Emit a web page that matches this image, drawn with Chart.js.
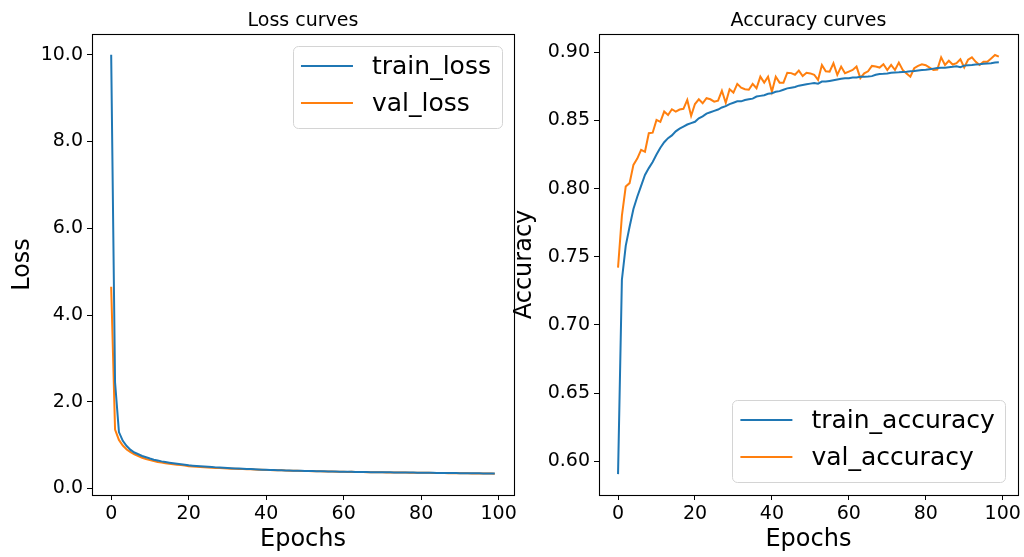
<!DOCTYPE html>
<html>
<head>
<meta charset="utf-8">
<script src="https://cdn.jsdelivr.net/npm/chart.js@4.4.1/dist/chart.umd.min.js"></script>
<style>
  html, body { margin: 0; padding: 0; background: #fff; }
  #wrap { position: relative; width: 1024px; height: 557px; overflow: hidden; }
  canvas { position: absolute; top: 0; }
  #lossChart { left: 0; }
  #accChart { left: 508px; }
</style>
</head>
<body>
<div id="wrap">
  <canvas id="lossChart" width="520" height="557"></canvas>
  <canvas id="accChart" width="516" height="557"></canvas>
</div>
<script>
// epochs 0..99
const epochs = Array.from({ length: 100 }, (_, i) => i);
const xTicks = [0, 20, 40, 60, 80, 100];
const lossTicks = [0, 2, 4, 6, 8, 10];
const accTicks = [0.60, 0.65, 0.70, 0.75, 0.80, 0.85, 0.90];

const trainLoss = [
  10.0, 2.45, 1.30, 1.10, 0.98, 0.89, 0.83, 0.79, 0.75, 0.72,
  0.69, 0.665, 0.645, 0.625, 0.61, 0.595, 0.582, 0.571, 0.56, 0.55,
  0.535, 0.527, 0.519, 0.512, 0.505, 0.499, 0.493, 0.487, 0.482, 0.477,
  0.472, 0.467, 0.463, 0.459, 0.455, 0.451, 0.447, 0.443, 0.439, 0.435,
  0.432, 0.429, 0.426, 0.423, 0.420, 0.417, 0.414, 0.412, 0.410, 0.408,
  0.406, 0.404, 0.402, 0.400, 0.398, 0.396, 0.394, 0.392, 0.390, 0.388,
  0.386, 0.385, 0.384, 0.382, 0.381, 0.380, 0.378, 0.377, 0.376, 0.375,
  0.374, 0.373, 0.372, 0.371, 0.370, 0.369, 0.368, 0.367, 0.366, 0.365,
  0.364, 0.363, 0.362, 0.361, 0.360, 0.359, 0.358, 0.357, 0.356, 0.355,
  0.354, 0.353, 0.352, 0.351, 0.350, 0.349, 0.348, 0.347, 0.346, 0.345
];
const valLoss = [
  4.65, 1.36, 1.12, 0.99, 0.90, 0.84, 0.79, 0.75, 0.71, 0.68,
  0.655, 0.632, 0.613, 0.598, 0.584, 0.571, 0.56, 0.549, 0.54, 0.531,
  0.515, 0.508, 0.502, 0.497, 0.49, 0.486, 0.481, 0.475, 0.472, 0.466,
  0.462, 0.458, 0.455, 0.45, 0.447, 0.445, 0.441, 0.437, 0.435, 0.432,
  0.428, 0.425, 0.423, 0.42, 0.418, 0.414, 0.412, 0.41, 0.407, 0.405,
  0.403, 0.401, 0.4, 0.397, 0.396, 0.393, 0.392, 0.39, 0.387, 0.386,
  0.384, 0.383, 0.385, 0.38, 0.379, 0.378, 0.376, 0.375, 0.374, 0.373,
  0.372, 0.371, 0.37, 0.369, 0.37, 0.367, 0.366, 0.365, 0.364, 0.363,
  0.362, 0.361, 0.362, 0.358, 0.357, 0.356, 0.355, 0.354, 0.353, 0.352,
  0.351, 0.35, 0.349, 0.348, 0.347, 0.346, 0.345, 0.344, 0.343, 0.342
];
const trainAcc = [
  0.5905, 0.733, 0.758, 0.772, 0.785, 0.794, 0.802, 0.810, 0.815, 0.8195,
  0.825, 0.830, 0.834, 0.837, 0.839, 0.842, 0.844, 0.8455, 0.847, 0.848,
  0.849, 0.8515, 0.853, 0.855, 0.856, 0.857, 0.858, 0.8595, 0.8605, 0.862,
  0.863, 0.864, 0.864, 0.865, 0.8655, 0.866, 0.8675, 0.868, 0.8685, 0.8695,
  0.870, 0.871, 0.8715, 0.8725, 0.8735, 0.874, 0.8745, 0.8755, 0.876, 0.8765,
  0.877, 0.8775, 0.877, 0.8785, 0.8785, 0.879, 0.8795, 0.880, 0.8805, 0.881,
  0.881, 0.8815, 0.8815, 0.882, 0.882, 0.8822, 0.8825, 0.8835, 0.884, 0.8842,
  0.8845, 0.885, 0.8852, 0.8853, 0.8855, 0.8857, 0.886, 0.8863, 0.8867, 0.887,
  0.8872, 0.8876, 0.888, 0.8884, 0.8886, 0.8887, 0.889, 0.8893, 0.8897, 0.889,
  0.8902, 0.8905, 0.8907, 0.891, 0.8912, 0.8915, 0.8918, 0.892, 0.8925, 0.8927
];
const valAcc = [
  0.742, 0.780, 0.8015, 0.804, 0.8174, 0.822, 0.8284, 0.827, 0.8406, 0.841,
  0.8504, 0.849, 0.8565, 0.854, 0.8582, 0.8565, 0.858, 0.8585, 0.865, 0.8533,
  0.862, 0.8655, 0.8626, 0.8663, 0.8655, 0.8638, 0.8645, 0.8718, 0.863, 0.8729,
  0.8704, 0.8768, 0.874, 0.8729, 0.8725, 0.8768, 0.8736, 0.8821, 0.8777, 0.8821,
  0.8711, 0.8821, 0.8777, 0.8777, 0.885, 0.8847, 0.8835, 0.8865, 0.8826, 0.885,
  0.8845, 0.8835, 0.8797, 0.8907, 0.886, 0.8858, 0.8919, 0.8834, 0.8895, 0.8846,
  0.8858, 0.887, 0.8895, 0.881, 0.8845, 0.886, 0.890, 0.8895, 0.8888, 0.8912,
  0.887, 0.8907, 0.887, 0.8924, 0.887, 0.8845, 0.8821, 0.8883, 0.890, 0.8912,
  0.8905, 0.8888, 0.887, 0.8873, 0.8963, 0.8907, 0.8938, 0.891, 0.892, 0.8949,
  0.8888, 0.8945, 0.8963, 0.893, 0.8907, 0.8931, 0.8931, 0.8955, 0.898, 0.8968
];

const BLUE = '#1f77b4';
const ORANGE = '#ff7f0e';

Chart.defaults.font.family = '"DejaVu Sans", sans-serif';
Chart.defaults.color = '#000';

// matplotlib style spines on all four sides + title centred on the axes
const framePlugin = {
  id: 'frame',
  afterDatasetsDraw(chart, args, opts) {
    const { ctx, chartArea: a } = chart;
    ctx.save();
    ctx.strokeStyle = '#000';
    ctx.lineWidth = 1.1;
    ctx.strokeRect(Math.round(a.left) + 0.5, Math.round(a.top) + 0.5,
      Math.round(a.right - a.left), Math.round(a.bottom - a.top));
    ctx.font = '19px "DejaVu Sans"';
    ctx.fillStyle = '#000';
    ctx.textAlign = 'center';
    ctx.textBaseline = 'alphabetic';
    ctx.fillText(opts.text, (a.left + a.right) / 2, 26);
    ctx.restore();
  }
};

// legend box drawn inside the plot area
const boxLegend = {
  id: 'boxLegend',
  afterDraw(chart, args, opts) {
    const { ctx, chartArea: a } = chart;
    const items = chart.data.datasets;
    ctx.save();
    ctx.font = '25px "DejaVu Sans"';
    const textW = Math.max(...items.map(d => ctx.measureText(d.label).width));
    const w = 8 + 52 + 20 + textW + 10;
    const h = 82;
    const x = a.right - 12 - w;
    const y = opts.corner === 'top' ? a.top + 12 : a.bottom - 13 - h;
    ctx.beginPath();
    ctx.roundRect(Math.round(x) + 0.5, Math.round(y) + 0.5, Math.round(w), h, 5);
    ctx.fillStyle = 'rgba(255,255,255,0.8)';
    ctx.fill();
    ctx.strokeStyle = '#d4d4d4';
    ctx.lineWidth = 1;
    ctx.stroke();
    items.forEach((d, i) => {
      const ry = y + 20 + i * 37;
      ctx.beginPath();
      ctx.moveTo(x + 8, ry);
      ctx.lineTo(x + 60, ry);
      ctx.strokeStyle = d.borderColor;
      ctx.lineWidth = 2;
      ctx.stroke();
      ctx.fillStyle = '#000';
      ctx.textBaseline = 'middle';
      ctx.textAlign = 'left';
      ctx.fillText(d.label, x + 79, ry + 1);
    });
    ctx.restore();
  }
};

function series(label, values, color) {
  return {
    label,
    data: epochs.map((e, i) => ({ x: e, y: values[i] })),
    borderColor: color,
    backgroundColor: color,
    borderWidth: 2,
    pointRadius: 0,
    tension: 0,
    fill: false
  };
}

function makeChart(id, cfg) {
  const tickGrid = { drawOnChartArea: false, drawTicks: true, tickLength: 5, color: '#000', lineWidth: 1 };
  return new Chart(document.getElementById(id), {
    type: 'line',
    data: { datasets: cfg.datasets },
    plugins: [framePlugin, boxLegend],
    options: {
      responsive: false,
      animation: false,
      layout: { padding: { left: 0, right: cfg.padRight, top: 34, bottom: 0 } },
      plugins: {
        legend: { display: false },
        tooltip: { enabled: false },
        title: { display: false },
        frame: { text: cfg.title },
        boxLegend: { corner: cfg.legendCorner }
      },
      scales: {
        x: {
          type: 'linear',
          min: -4.95,
          max: 103.95,
          afterBuildTicks: s => { s.ticks = xTicks.map(v => ({ value: v })); },
          afterFit: s => { s.height = 62; },
          grid: tickGrid,
          border: { display: false },
          ticks: { autoSkip: false, maxRotation: 0, padding: 3, color: '#000', font: { size: 19 }, callback: v => String(v) },
          title: { display: true, text: 'Epochs', color: '#000', font: { size: 24 }, padding: { top: 0, bottom: 3 } }
        },
        y: {
          min: cfg.yMin,
          max: cfg.yMax,
          afterBuildTicks: s => { s.ticks = cfg.yTicks.map(v => ({ value: v })); },
          afterFit: s => { s.width = cfg.yWidth; },
          grid: tickGrid,
          border: { display: false },
          ticks: { autoSkip: false, padding: 4, color: '#000', font: { size: 19 }, callback: v => v.toFixed(cfg.digits) },
          title: { display: true, text: cfg.yTitle, color: '#000', font: { size: 24 }, padding: { top: cfg.yTitlePad, bottom: 0 } }
        }
      }
    }
  });
}

makeChart('lossChart', {
  title: 'Loss curves',
  yTitle: 'Loss',
  datasets: [series('train_loss', trainLoss, BLUE), series('val_loss', valLoss, ORANGE)],
  yMin: -0.15, yMax: 10.48, yTicks: lossTicks, digits: 1,
  yWidth: 92, yTitlePad: 8, padRight: 6, legendCorner: 'top'
});

makeChart('accChart', {
  title: 'Accuracy curves',
  yTitle: 'Accuracy',
  datasets: [series('train_accuracy', trainAcc, BLUE), series('val_accuracy', valAcc, ORANGE)],
  yMin: 0.5752, yMax: 0.9134, yTicks: accTicks, digits: 2,
  yWidth: 91, yTitlePad: 2, padRight: 5, legendCorner: 'bottom'
});
</script>
</body>
</html>
